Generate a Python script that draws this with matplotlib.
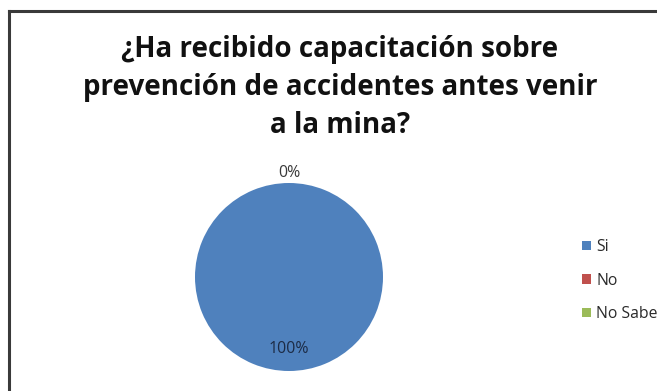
import matplotlib
matplotlib.use("Agg")
import matplotlib.pyplot as plt
from matplotlib.lines import Line2D
import numpy as np

# respuestas de la encuesta
categorias = ["Si", "No", "No Sabe"]
valores = [100, 0, 0]
colores = ["#4F81BD", "#C0504D", "#9BBB59"]

titulo = "¿Ha recibido capacitación sobre\nprevención de accidentes antes venir\na la mina?"

plt.rcParams["font.family"] = ["Open Sans", "DejaVu Sans"]

W, H = 657, 391
fig = plt.figure(figsize=(W / 100, H / 100), dpi=100)
fig.patch.set_facecolor("white")

# marco del grafico (solo se ven el borde izquierdo y el superior)
fig.add_artist(Line2D([8.5 / W, 8.5 / W], [0, 1 - 11 / H], transform=fig.transFigure,
                      color="#3a3a3a", lw=2.2))
fig.add_artist(Line2D([8.5 / W, 1], [1 - 11 / H, 1 - 11 / H], transform=fig.transFigure,
                      color="#3a3a3a", lw=2.2))

fig.text(340 / W, 1 - 35 / H, titulo, ha="center", va="top", fontsize=20,
         fontweight="bold", color="#111111", linespacing=1.42)

# area del pastel
cx, cy, r = 289, 277, 94
ax = fig.add_axes([(cx - r) / W, (H - cy - r) / H, 2 * r / W, 2 * r / H])
wedges, _ = ax.pie(valores, colors=colores, startangle=90, counterclock=False,
                   radius=1, wedgeprops=dict(linewidth=0))
ax.set_xlim(-1, 1)
ax.set_ylim(-1, 1)
ax.set_aspect("equal")
ax.axis("off")

total = sum(valores)
mostrado_cero = False
for w, v in zip(wedges, valores):
    ang = np.deg2rad((w.theta1 + w.theta2) / 2)
    pct = f"{v / total * 100:.0f}%"
    if v == 0:
        # las porciones vacias comparten posicion: una sola etiqueta arriba
        if mostrado_cero:
            continue
        mostrado_cero = True
        ax.text(1.11 * np.cos(ang), 1.11 * np.sin(ang), pct, ha="center", va="center",
                fontsize=11.5, color="#3a3a3a", fontweight="medium", clip_on=False)
    else:
        ax.text(0.77 * np.cos(ang), 0.77 * np.sin(ang), pct, ha="center", va="center",
                fontsize=11.5, color="#1c2b45", fontweight="medium")

leyenda = fig.legend(wedges, categorias, loc="upper left",
                     bbox_to_anchor=(576 / W, 1 - 233 / H), frameon=False,
                     fontsize=11.3, handlelength=0.55, handleheight=0.55,
                     handletextpad=0.35, labelspacing=1.1, borderaxespad=0)
for t in leyenda.get_texts():
    t.set_color("#2a2a2a")

fig.savefig("out.png", dpi=100)
